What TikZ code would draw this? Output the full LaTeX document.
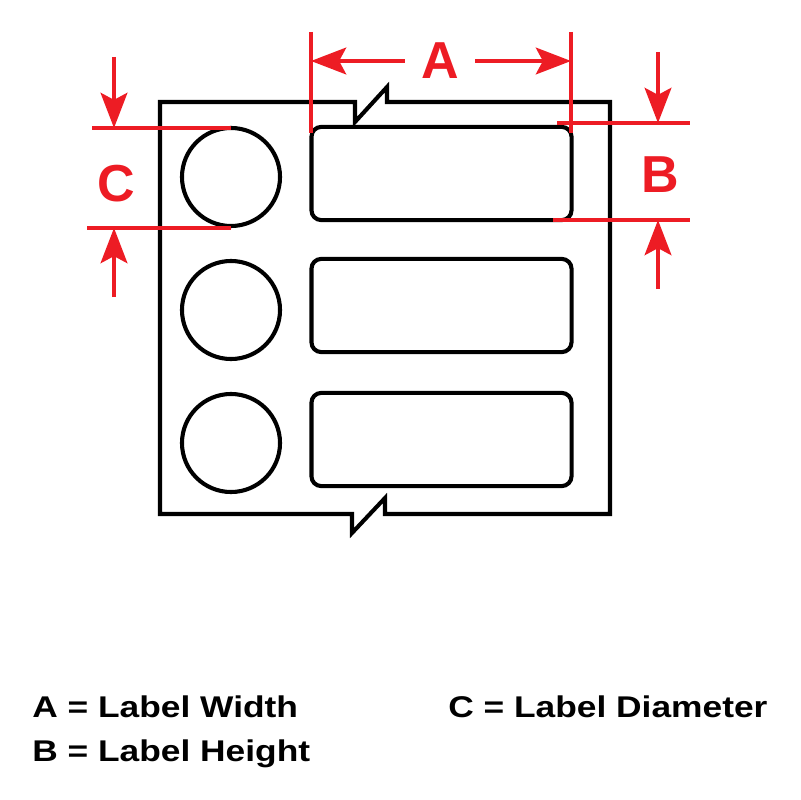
\documentclass[tikz,border=0pt]{standalone}
\usepackage{fontspec}
\setmainfont{Liberation Sans}
\newfontfamily\legendfont[FakeStretch=1.18]{Liberation Sans}
\usetikzlibrary{arrows.meta}
\definecolor{dimred}{RGB}{237,28,36}

\begin{document}
\begin{tikzpicture}[x=0.025cm,y=-0.025cm,
	outline/.style={line width=2.9pt, black, line join=miter},
	dimline/.style={line width=2.7pt, dimred},
	dimarrow/.style={dimline, -{Stealth[length=25pt,width=19pt,inset=5pt]}},
	labelcirc/.style={outline, draw, circle, minimum size=2.45cm, inner sep=0pt},
	labelrect/.style={outline, draw, rounded corners=7pt, minimum width=6.5cm, minimum height=2.33cm, inner sep=0pt},
	dimtext/.style={text=dimred, font=\bfseries\fontsize{37}{37}\selectfont, inner sep=0.4cm},
	legend/.style={font=\legendfont\bfseries\fontsize{21.3}{24}\selectfont, inner sep=0pt}]
	\useasboundingbox (0,0) rectangle (800,800);
	%\draw[help lines] (0,0) grid[step=1cm] (800,800);

	% liner with the two break marks
	\draw[outline] (355,102) -- (160,102) -- (160,514) -- (352,514) -- (352,533) -- (385,498) -- (385,514)
		-- (610,514) -- (610,102) -- (387,102) -- (387,87) -- (355,122) -- cycle;

	% labels
	\node[labelcirc] (circ1) at (231,177) {};
	\node[labelcirc] (circ2) at (231,310) {};
	\node[labelcirc] (circ3) at (231,443) {};
	\node[labelrect] (rect1) at (441.5,173.5) {};
	\node[labelrect] (rect2) at (441.5,305.5) {};
	\node[labelrect] (rect3) at (441.5,439.5) {};

	% A = width
	\coordinate (aTopL) at (311,32);
	\coordinate (aBotL) at (311,133);
	\coordinate (aTopR) at (571,32);
	\coordinate (aBotR) at (571,133);
	\draw[dimline] (aTopL) -- (aBotL);
	\draw[dimline] (aTopR) -- (aBotR);
	\node[dimtext] (dimA) at (440,61) {A};
	\draw[dimarrow] (dimA) -- (aTopL |- dimA);
	\draw[dimarrow] (dimA) -- (aTopR |- dimA);

	% B = height
	\coordinate (bTopIn) at (557,123);
	\coordinate (bTopOut) at (690,123);
	\coordinate (bBotIn) at (553,220);
	\coordinate (bBotOut) at (690,220);
	\draw[dimline] (bTopIn) -- (bTopOut);
	\draw[dimline] (bBotIn) -- (bBotOut);
	\coordinate (bDown) at (658,52);
	\coordinate (bUp) at (658,289);
	\draw[dimarrow] (bDown) -- (bDown |- bTopIn);
	\draw[dimarrow] (bUp) -- (bUp |- bBotIn);
	\node[dimtext] (dimB) at (660,175) {B};

	% C = diameter
	\coordinate (cTopOut) at (92,128);
	\coordinate (cBotOut) at (87,228);
	\draw[dimline] (cTopOut) -- (circ1.north |- cTopOut);
	\draw[dimline] (cBotOut) -- (circ1.south |- cBotOut);
	\coordinate (cDown) at (114,57);
	\coordinate (cUp) at (114,297);
	\draw[dimarrow] (cDown) -- (cDown |- cTopOut);
	\draw[dimarrow] (cUp) -- (cUp |- cBotOut);
	\node[dimtext] (dimC) at (116,184) {C};

	% legend
	\node[legend, anchor=base west] (legA) at (32,717) {A = Label Width};
	\node[legend, anchor=base west] (legB) at (32,761) {B = Label Height};
	\node[legend, anchor=base west] (legC) at (448,717) {C = Label Diameter};
\end{tikzpicture}
\end{document}
